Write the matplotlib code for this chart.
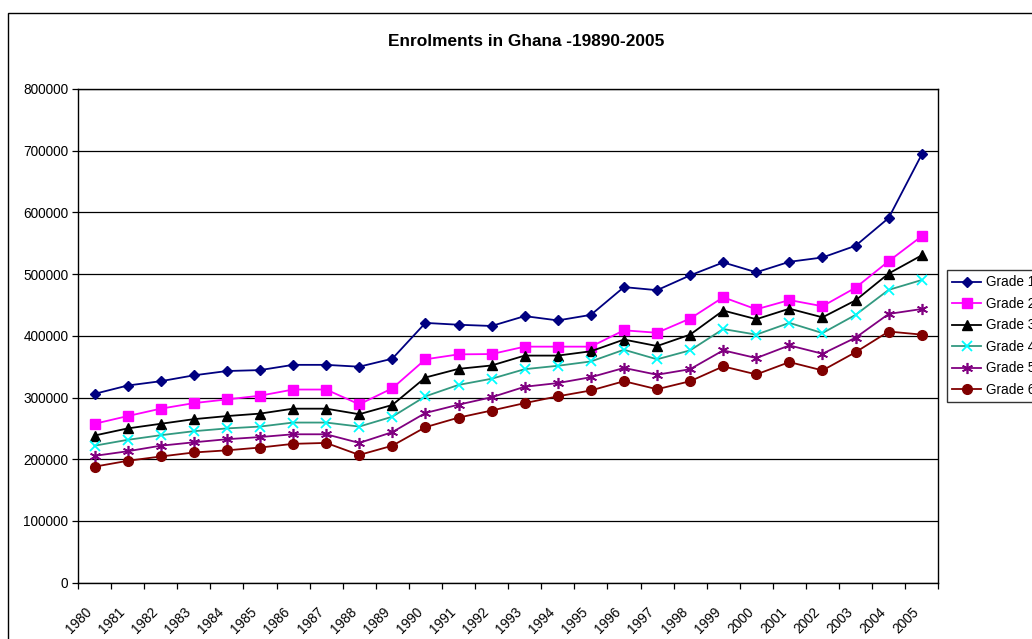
import matplotlib
matplotlib.use("Agg")
import matplotlib.pyplot as plt
from matplotlib.patches import Rectangle

# data
years = [str(y) for y in range(1980, 2006)]
grade1 = [306000, 319500, 326500, 336000, 343000, 344500, 353000, 353000, 350000, 363000,
          421000, 418000, 416000, 432000, 425000, 434000, 479000, 474000, 498000, 519000,
          503000, 520000, 527000, 546000, 591000, 694000]
grade2 = [257500, 270000, 282000, 291000, 297000, 303000, 313000, 313000, 289000, 315000,
          362000, 370000, 370500, 382500, 382500, 382500, 409000, 405000, 428000, 462500,
          443000, 458000, 448000, 478000, 521000, 561500]
grade3 = [238500, 250000, 257500, 265000, 270000, 274000, 282000, 282000, 273000, 288000,
          332500, 346500, 352000, 368000, 368000, 375000, 394000, 383500, 402000, 441000,
          427000, 444000, 430000, 457500, 501000, 530500]
grade4 = [222000, 231500, 239000, 245500, 250000, 253000, 259500, 259500, 253000, 269000,
          302000, 320500, 330500, 346000, 351500, 358500, 377500, 362000, 376500, 411000,
          402000, 421000, 404500, 434000, 474500, 490500]
grade5 = [205500, 213000, 222000, 227500, 232500, 236000, 240500, 240500, 226500, 244000,
          275000, 288500, 300500, 317500, 323500, 333000, 348000, 337000, 346000, 376500,
          364000, 384500, 371000, 397000, 435500, 443500]
grade6 = [188000, 197500, 204500, 211000, 214500, 219000, 225000, 226500, 207000, 222000,
          252000, 267500, 279000, 291000, 302000, 311500, 326500, 313500, 326500, 350500,
          337500, 357500, 344000, 373500, 407000, 402000]
labels = ["Grade 1", "Grade 2", "Grade 3", "Grade 4", "Grade 5", "Grade 6"]

plt.rcParams["font.family"] = ["Liberation Sans", "DejaVu Sans"]

W, H = 1032, 639
fig = plt.figure(figsize=(W / 100, H / 100), dpi=100)
fig.patch.set_facecolor("white")

# chart area border (runs off the right and bottom edge like the original)
fig.patches.append(Rectangle((7.5 / W, -0.1), 1.2, 1 - 13 / H + 0.1,
                             transform=fig.transFigure, fill=False,
                             edgecolor="black", linewidth=1.0))

ax = fig.add_axes([78 / W, (H - 582.7) / H, (938.3 - 78) / W, (582.7 - 89) / H])

x = list(range(len(years)))
styles = [
    dict(color="#000080", marker="D", markersize=5.5, mfc="#000080", mec="#000080"),
    dict(color="#FF00FF", marker="s", markersize=7, mfc="#FF00FF", mec="#FF00FF"),
    dict(color="black", marker="^", markersize=7, mfc="black", mec="black"),
    dict(color="#339980", marker="x", markersize=7, mfc="#00FFFF", mec="#00FFFF", mew=1.3),
    dict(color="#800080", marker=(6, 2, 0), markersize=8, mfc="#800080", mec="#800080", mew=1.2),
    dict(color="#800000", marker="o", markersize=7, mfc="#800000", mec="#800000"),
]
for vals, lab, st in zip([grade1, grade2, grade3, grade4, grade5, grade6], labels, styles):
    ax.plot(x, vals, label=lab, linewidth=1.3, **st)

ax.set_xlim(-0.5, len(years) - 0.5)
ax.set_ylim(0, 800000)
ax.set_yticks(range(0, 800001, 100000))
ax.set_yticklabels([str(v) for v in range(0, 800001, 100000)], fontsize=9.8)
ax.yaxis.grid(True, color="black", linewidth=0.9)
ax.set_axisbelow(True)

ax.set_xticks(x)
ax.set_xticklabels(years, rotation=45, ha="right", fontsize=9.8)
ax.set_xticks([i - 0.5 for i in range(len(years) + 1)], minor=True)
ax.tick_params(axis="x", which="major", length=0, pad=16)
ax.tick_params(axis="x", which="minor", length=4, direction="out", width=0.9)
ax.tick_params(axis="y", length=4, direction="out", width=0.9, pad=3)

for s in ax.spines.values():
    s.set_linewidth(1.0)
    s.set_color("black")

fig.text(526 / W, 1 - 41 / H, "Enrolments in Ghana -19890-2005",
         ha="center", va="center", fontsize=12.4, fontweight="bold")

leg = fig.legend(loc="upper left", bbox_to_anchor=(947 / W, 1 - 270 / H),
                 fontsize=9.8, frameon=True, fancybox=False, shadow=False,
                 borderaxespad=0, borderpad=0.4, labelspacing=0.55,
                 handlelength=2.1, handletextpad=0.35)
leg.get_frame().set_edgecolor("black")
leg.get_frame().set_linewidth(1.0)

fig.savefig("out.png", dpi=100)
